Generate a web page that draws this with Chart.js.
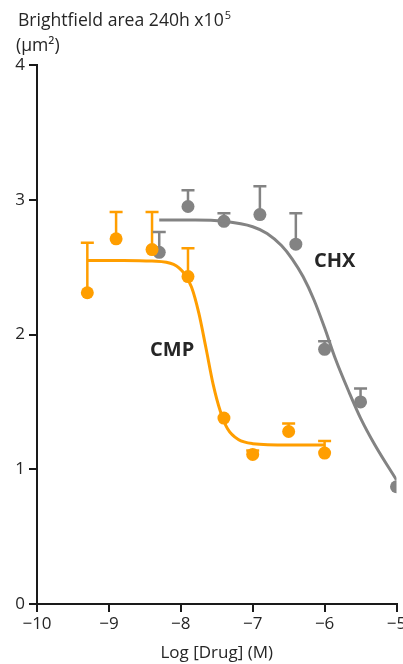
<!DOCTYPE html>
<html>
<head>
<meta charset="utf-8">
<script src="https://cdn.jsdelivr.net/npm/chart.js@4.4.1/dist/chart.umd.min.js"></script>
<style>
  html, body { margin: 0; padding: 0; background: #fff; }
  #wrap { width: 403px; height: 664px; position: relative; }
</style>
</head>
<body>
<div id="wrap"><canvas id="chart"></canvas></div>
<script>
// measured points (log M vs area x10^5 um^2), upper error bar
const doseCMP = [-9.3, -8.9, -8.4, -7.9, -7.4, -7.0, -6.5, -6.0];
const areaCMP = [2.31, 2.71, 2.63, 2.43, 1.38, 1.11, 1.28, 1.12];
const errCMP  = [0.37, 0.20, 0.28, 0.21, 0.0, 0.03, 0.06, 0.09];

const doseCHX = [-8.3, -7.9, -7.4, -6.9, -6.4, -6.0, -5.5, -5.0];
const areaCHX = [2.61, 2.95, 2.84, 2.89, 2.67, 1.89, 1.50, 0.87];
const errCHX  = [0.15, 0.12, 0.06, 0.21, 0.23, 0.06, 0.10, 0.0];

// fitted curves
const fitXCMP = [-9.3, -8.8, -8.4, -8.1, -7.95, -7.85, -7.75, -7.65, -7.55, -7.45, -7.35, -7.2, -7.0, -6.5, -6.0];
const fitYCMP = [2.55, 2.55, 2.545, 2.52, 2.45, 2.35, 2.16, 1.90, 1.63, 1.43, 1.30, 1.22, 1.19, 1.18, 1.18];

const fitXCHX = [-8.3, -7.8, -7.4, -7.0, -6.8, -6.6, -6.45, -6.3, -6.15, -6.0, -5.85, -5.65, -5.5, -5.3, -5.0];
const fitYCHX = [2.85, 2.85, 2.84, 2.80, 2.75, 2.66, 2.56, 2.43, 2.26, 2.05, 1.82, 1.56, 1.38, 1.18, 0.92];

const xTicks = [-10, -9, -8, -7, -6, -5];
const yTicks = [0, 1, 2, 3, 4];

const ORANGE = '#ff9e00';
const GREY = '#838383';
const INK = '#262626';

const pts = (xs, ys) => xs.map((x, i) => ({ x: x, y: ys[i] }));

// upward-only error bars with caps
const errorBars = {
  id: 'errorBars',
  beforeDatasetsDraw(chart) {
    const ctx = chart.ctx;
    const xs = chart.scales.x, ys = chart.scales.y;
    chart.data.datasets.forEach((ds) => {
      if (!ds.errUp) return;
      ctx.save();
      ctx.strokeStyle = ds.backgroundColor;
      ctx.lineWidth = 2.5;
      ds.data.forEach((p, i) => {
        const e = ds.errUp[i];
        if (!e) return;
        const px = xs.getPixelForValue(p.x);
        const py = ys.getPixelForValue(p.y);
        const pt = ys.getPixelForValue(p.y + e);
        ctx.beginPath();
        ctx.moveTo(px, py);
        ctx.lineTo(px, pt);
        ctx.moveTo(px - 6.5, pt);
        ctx.lineTo(px + 6.5, pt);
        ctx.stroke();
      });
      ctx.restore();
    });
  }
};

// y title and series names
const annotations = {
  id: 'annotations',
  afterDraw(chart) {
    const ctx = chart.ctx;
    const xs = chart.scales.x, ys = chart.scales.y;
    ctx.save();
    ctx.fillStyle = INK;
    ctx.textBaseline = 'alphabetic';
    ctx.textAlign = 'left';
    ctx.font = '17.6px "Open Sans"';
    const t1 = 'Brightfield area 240h x10';
    ctx.fillText(t1, 18, 26);
    const w1 = ctx.measureText(t1).width;
    ctx.font = '11px "Open Sans"';
    ctx.fillText('5', 18 + w1 + 1, 19);
    ctx.font = '17.6px "Open Sans"';
    ctx.fillText('(\u00b5m\u00b2)', 16, 51);

    ctx.font = 'bold 20px "Open Sans"';
    ctx.textAlign = 'center';
    ctx.textBaseline = 'middle';
    ctx.fillText('CHX', xs.getPixelForValue(-5.86), ys.getPixelForValue(2.54));
    ctx.fillText('CMP', xs.getPixelForValue(-8.12), ys.getPixelForValue(1.88));
    ctx.restore();
  }
};

const minusLabel = (v) => (v < 0 ? '\u2212' + Math.abs(v) : String(v));

new Chart(document.getElementById('chart'), {
  type: 'scatter',
  data: {
    datasets: [
      {
        label: 'CMP fit',
        data: pts(fitXCMP, fitYCMP),
        showLine: true,
        borderColor: ORANGE,
        borderWidth: 3,
        pointRadius: 0,
        cubicInterpolationMode: 'monotone'
      },
      {
        label: 'CMP',
        data: pts(doseCMP, areaCMP),
        errUp: errCMP,
        backgroundColor: ORANGE,
        borderWidth: 0,
        pointRadius: 6.5
      },
      {
        label: 'CHX fit',
        data: pts(fitXCHX, fitYCHX),
        showLine: true,
        borderColor: GREY,
        borderWidth: 3,
        pointRadius: 0,
        cubicInterpolationMode: 'monotone'
      },
      {
        label: 'CHX',
        data: pts(doseCHX, areaCHX),
        errUp: errCHX,
        backgroundColor: GREY,
        borderWidth: 0,
        pointRadius: 6.5
      }
    ]
  },
  options: {
    responsive: true,
    maintainAspectRatio: false,
    animation: false,
    layout: { padding: { top: 65, right: 5, left: 0, bottom: 0 } },
    plugins: {
      legend: { display: false },
      tooltip: { enabled: false }
    },
    scales: {
      x: {
        type: 'linear',
        min: -10,
        max: -5,
        afterBuildTicks: (s) => { s.ticks = xTicks.map((v) => ({ value: v })); },
        afterFit: (s) => { s.height = 60; s.paddingLeft = 0; s.paddingRight = 0; },
        ticks: {
          color: INK,
          font: { family: 'Open Sans', size: 17 },
          padding: 2,
          maxRotation: 0,
          callback: minusLabel
        },
        border: { color: '#1a1a1a', width: 2 },
        grid: { drawOnChartArea: false, tickLength: 8, color: '#1a1a1a', lineWidth: 2 },
        title: {
          display: true,
          text: 'Log [Drug] (M)',
          color: INK,
          font: { family: 'Open Sans', size: 17 },
          padding: { top: 0, bottom: 1 }
        }
      },
      y: {
        type: 'linear',
        min: 0,
        max: 4,
        afterBuildTicks: (s) => { s.ticks = yTicks.map((v) => ({ value: v })); },
        afterFit: (s) => { s.width = 37; s.paddingTop = 0; s.paddingBottom = 0; },
        ticks: {
          color: INK,
          font: { family: 'Open Sans', size: 17 },
          padding: 4
        },
        border: { color: '#1a1a1a', width: 2 },
        grid: { drawOnChartArea: false, tickLength: 8, color: '#1a1a1a', lineWidth: 2 }
      }
    }
  },
  plugins: [errorBars, annotations]
});
</script>
</body>
</html>
